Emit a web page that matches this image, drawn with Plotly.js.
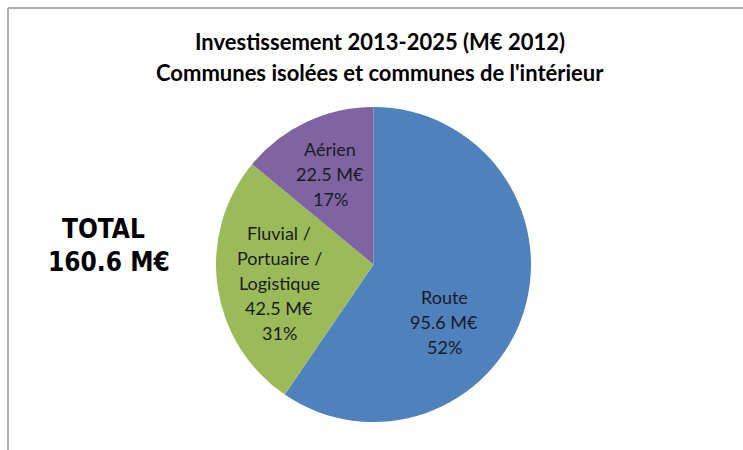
<!DOCTYPE html>
<html>
<head>
<meta charset="utf-8">
<script src="https://cdn.plot.ly/plotly-3.0.1.min.js"></script>
<style>html,body{margin:0;padding:0;background:#fff;}#chart{width:743px;height:450px;}</style>
</head>
<body>
<div id="chart"></div>
<script>
// Data
const categories = ["Route", "Fluvial / Portuaire / Logistique", "Aérien"];
const categoryLines = [["Route"], ["Fluvial /", "Portuaire /", "Logistique"], ["Aérien"]];
const valuesMEuro = [95.6, 42.5, 22.5];
const percentLabels = ["52%", "31%", "17%"];
const sliceColors = ["#4f81bd", "#9bbb59", "#8064a2"];
const titleLines = ["Investissement 2013-2025 (M€ 2012)", "Communes isolées et communes de l'intérieur"];
const totalLines = ["TOTAL", "160.6 M€"];

const W = 743, H = 450;
const px = x => x / W;
const py = y => 1 - y / H;

// label block placement (pixel positions of first line centre), layout only
const labelAnchors = [{ x: 444, y: 297 }, { x: 279, y: 233 }, { x: 330, y: 149 }];
const labelLineGap = 25;

const trace = {
  type: "pie",
  labels: categories,
  values: valuesMEuro,
  textinfo: "none",
  sort: false,
  direction: "clockwise",
  rotation: 0,
  marker: { colors: sliceColors, line: { width: 0 } },
  hoverinfo: "none",
  showlegend: false,
  domain: { x: [px(373.5 - 157.5), px(373.5 + 157.5)], y: [py(264.5 + 157.5), py(264.5 - 157.5)] }
};

const annotations = [
  { text: "<b>" + titleLines[0] + "</b>", x: px(380), y: py(41), xref: "paper", yref: "paper", showarrow: false, xanchor: "center", yanchor: "middle", font: { family: "Lato, sans-serif", size: 22, color: "#000" } },
  { text: "<b>" + titleLines[1] + "</b>", x: px(380), y: py(72), xref: "paper", yref: "paper", showarrow: false, xanchor: "center", yanchor: "middle", font: { family: "Lato, sans-serif", size: 22, color: "#000" } },
  { text: "<b>" + totalLines[0] + "</b>", x: px(104), y: py(229), xref: "paper", yref: "paper", showarrow: false, xanchor: "center", yanchor: "middle", font: { family: "'DejaVu Sans Condensed', 'DejaVu Sans', sans-serif", size: 26, color: "#000" } },
  { text: "<b>" + totalLines[1] + "</b>", x: px(109), y: py(262), xref: "paper", yref: "paper", showarrow: false, xanchor: "center", yanchor: "middle", font: { family: "'DejaVu Sans Condensed', 'DejaVu Sans', sans-serif", size: 26, color: "#000" } }
];

categories.forEach((c, i) => {
  const lines = categoryLines[i].concat([valuesMEuro[i].toFixed(1) + " M€", percentLabels[i]]);
  lines.forEach((t, k) => {
    annotations.push({
      text: t, x: px(labelAnchors[i].x), y: py(labelAnchors[i].y + k * labelLineGap),
      xref: "paper", yref: "paper", showarrow: false, xanchor: "center", yanchor: "middle",
      font: { family: "Lato, 'Open Sans', sans-serif", size: 18, color: "#1a1a26" }
    });
  });
});

const layout = {
  width: W, height: H,
  margin: { l: 0, r: 0, t: 0, b: 0 },
  paper_bgcolor: "#ffffff",
  showlegend: false,
  annotations: annotations,
  shapes: [
    { type: "line", xref: "paper", yref: "paper", x0: px(8), x1: 1, y0: py(8), y1: py(8), line: { color: "#b0b0b0", width: 2 } },
    { type: "line", xref: "paper", yref: "paper", x0: px(8), x1: px(8), y0: py(8), y1: 0, line: { color: "#b0b0b0", width: 2 } }
  ]
};

Plotly.newPlot("chart", [trace], layout, { displayModeBar: false, staticPlot: true });
</script>
</body>
</html>
